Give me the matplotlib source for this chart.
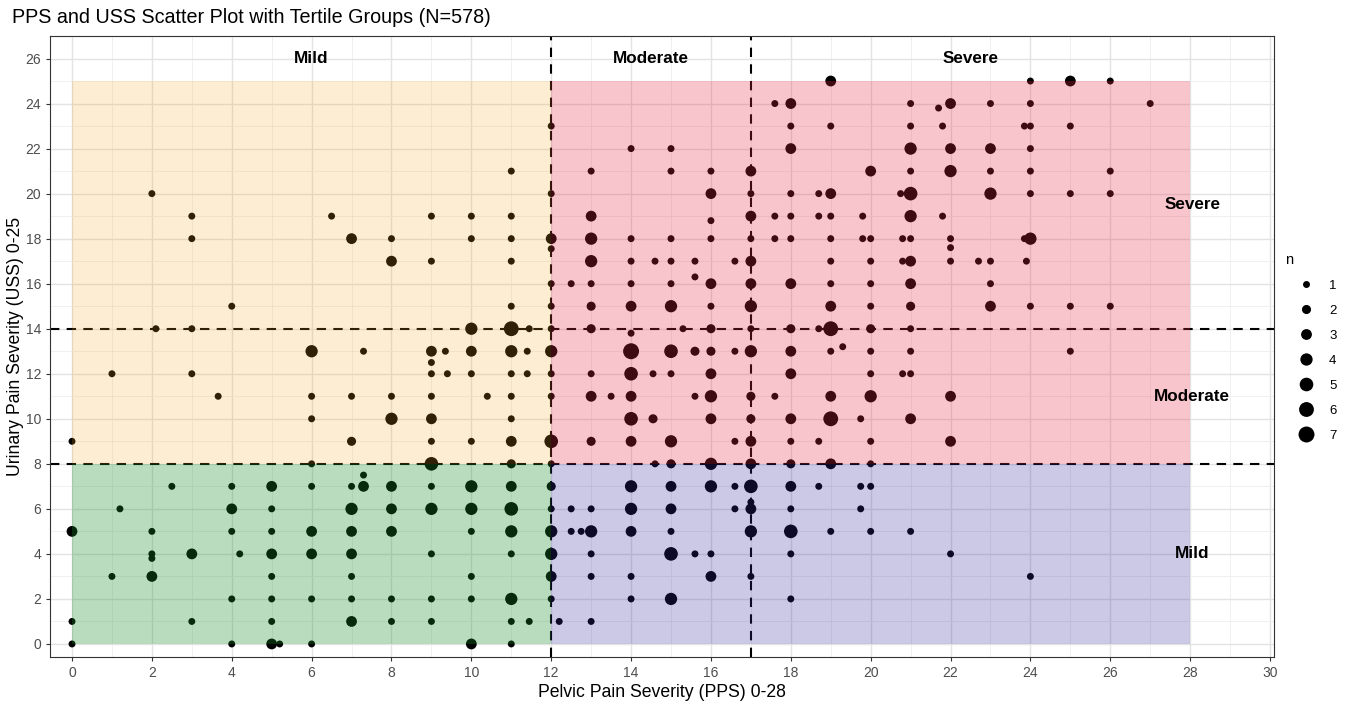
"""PPS vs USS scatter with tertile group shading."""

import matplotlib
import numpy as np

matplotlib.use("Agg")
from matplotlib import pyplot as plt  # noqa: E402
from matplotlib.lines import Line2D  # noqa: E402
from matplotlib.patches import Rectangle  # noqa: E402

plt.rcParams["font.family"] = ["Liberation Sans", "DejaVu Sans"]

# pelvic pain score, one line per urinary score row (top to bottom)
pps = [
    19, 24, 25, 26,
    17.6, 18, 21, 21.7, 22, 23, 24, 27,
    12, 18, 19, 21, 21.8, 23.85, 24, 25,
    14, 15, 18, 21, 22, 23, 24,
    11, 13, 15, 16, 17, 20, 21, 22, 23, 24, 26,
    2, 12, 16, 17, 18, 18.7, 19, 20.75, 21, 23, 24, 25, 26,
    3, 6.5, 9, 10, 11, 13, 16, 17, 17.6, 18, 18.7, 19, 19.8, 21, 21.8,
    3, 7, 8, 10, 11, 12, 12, 13, 14, 15, 16, 17, 17.6, 18, 19, 19.8, 20, 20.8, 21, 22, 22, 23.85, 24,
    8, 9, 11, 13, 14, 14.6, 15, 15.6, 16.6, 17, 19, 20, 20.8, 21, 22, 22.7, 23, 23.9,
    12, 12.5, 13, 14, 15, 15.6, 16, 17, 18, 19, 20, 21, 23,
    4, 11, 12, 13, 14, 15, 16, 17, 19, 20, 21, 23, 24, 25, 26,
    2.1, 3, 10, 11, 11.45, 12, 13, 14, 15.3, 16, 17, 18, 18.7, 19, 20, 21,
    6, 7.3, 9, 9.35, 10, 11, 11.4, 12, 14, 15, 15.6, 16, 16.6, 17, 18, 19, 19.3, 20, 21, 25, 9,
    1, 3, 9, 9.4, 10, 11, 11.4, 12, 13, 14, 14.55, 15, 16, 18, 20, 20.8, 21,
    3.66, 6, 7, 8, 9, 10.4, 11, 12, 13, 13.5, 14, 15.6, 16, 17, 17.6, 19, 20, 22,
    6, 8, 9, 11, 14, 14.55, 16, 17, 18, 19, 19.75, 21,
    0, 7, 9, 10, 11, 12, 13, 14, 15, 16.6, 17, 18, 18.7, 20, 22,
    6, 9, 11, 12, 14.6, 15, 16, 17, 18, 19, 20,
    2.5, 4, 5, 6, 7, 7.3, 7.3, 8, 9, 10, 11, 12, 14, 15, 16, 16.6, 17, 18, 18.7, 19.75, 20,
    1.2, 4, 5, 7, 8, 9, 10, 11, 12, 12.5, 13, 14, 15, 16.6, 17, 17, 18, 19.75,
    0, 2, 4, 5, 6, 7, 8, 10, 11, 12, 12.5, 12.75, 13, 14, 15, 17, 18, 19, 20, 21,
    2, 2, 3, 4.2, 5, 6, 7, 9, 11, 12, 13, 15, 15.6, 16, 18, 22,
    1, 2, 5, 7, 10, 12, 13, 14, 16, 17, 24,
    4, 5, 6, 7, 8, 9, 10, 11, 12, 14, 15, 18,
    0, 3, 5, 7, 8, 9, 11, 11.45, 12.2, 13,
    0, 4, 5, 5.2, 6, 10, 11,
]

# urinary pain score
uss = [
    25, 25, 25, 25,
    24, 24, 24, 23.8, 24, 24, 24, 24,
    23, 23, 23, 23, 23, 23, 23, 23,
    22, 22, 22, 22, 22, 22, 22,
    21, 21, 21, 21, 21, 21, 21, 21, 21, 21, 21,
    20, 20, 20, 20, 20, 20, 20, 20, 20, 20, 20, 20, 20,
    19, 19, 19, 19, 19, 19, 18.8, 19, 19, 19, 19, 19, 19, 19, 19,
    18, 18, 18, 18, 18, 18, 17.55, 18, 18, 18, 18, 18, 18, 18, 18, 18, 18, 18, 18, 18, 17.6, 18, 18,
    17, 17, 17, 17, 17, 17, 17, 17, 17, 17, 17, 17, 17, 17, 17, 17, 17, 17,
    16, 16, 16, 16, 16, 16.3, 16, 16, 16, 16, 16, 16, 16,
    15, 15, 15, 15, 15, 15, 15, 15, 15, 15, 15, 15, 15, 15, 15,
    14, 14, 14, 14, 14, 14, 14, 13.8, 14, 14, 14, 14, 14, 14, 14, 14,
    13, 13, 13, 13, 13, 13, 13, 13, 13, 13, 13, 13, 13, 13, 13, 13, 13.2, 13, 13, 13, 12.5,
    12, 12, 12, 12, 12, 12, 12, 12, 12, 12, 12, 12, 12, 12, 12, 12, 12,
    11, 11, 11, 11, 11, 11, 11, 11, 11, 11, 11, 11, 11, 11, 11, 11, 11, 11,
    10, 10, 10, 10, 10, 10, 10, 10, 10, 10, 10, 10,
    9, 9, 9, 9, 9, 9, 9, 9, 9, 9, 9, 9, 9, 9, 9,
    8, 8, 8, 8, 8, 8, 8, 8, 8, 8, 8,
    7, 7, 7, 7, 7, 7, 7.5, 7, 7, 7, 7, 7, 7, 7, 7, 7, 7, 7, 7, 7, 7,
    6, 6, 6, 6, 6, 6, 6, 6, 6, 6, 6, 6, 6, 6, 6, 6.3, 6, 6,
    5, 5, 5, 5, 5, 5, 5, 5, 5, 5, 5, 5, 5, 5, 5, 5, 5, 5, 5, 5,
    4, 3.8, 4, 4, 4, 4, 4, 4, 4, 4, 4, 4, 4, 4, 4, 4,
    3, 3, 3, 3, 3, 3, 3, 3, 3, 3, 3,
    2, 2, 2, 2, 2, 2, 2, 2, 2, 2, 2, 2,
    1, 1, 1, 1, 1, 1, 1, 1, 1, 1,
    0, 0, 0, 0, 0, 0, 0,
]

# number of patients at each (pps, uss) point
n_pat = [
    3, 1, 3, 1,
    1, 3, 1, 1, 3, 1, 1, 1,
    1, 1, 1, 1, 1, 1, 1, 1,
    1, 1, 3, 4, 3, 3, 1,
    1, 1, 1, 1, 3, 3, 1, 4, 1, 1, 1,
    1, 1, 3, 1, 1, 1, 3, 1, 5, 4, 1, 1, 1,
    1, 1, 1, 1, 1, 3, 1, 3, 1, 1, 1, 1, 1, 4, 1,
    1, 3, 1, 1, 1, 3, 1, 4, 1, 1, 1, 1, 1, 1, 1, 1, 1, 1, 1, 1, 1, 1, 4,
    3, 1, 1, 4, 1, 1, 1, 1, 1, 3, 1, 1, 1, 3, 1, 1, 1, 1,
    1, 1, 1, 1, 1, 1, 3, 3, 3, 1, 1, 3, 1,
    1, 1, 1, 2, 3, 4, 1, 4, 3, 1, 2, 3, 1, 1, 1,
    1, 1, 4, 6, 1, 1, 2, 1, 1, 2, 1, 2, 1, 6, 2, 1,
    4, 1, 3, 1, 3, 4, 1, 4, 7, 5, 2, 2, 1, 4, 3, 1, 1, 1, 1, 1, 1,
    1, 1, 1, 1, 1, 1, 1, 1, 1, 5, 1, 1, 3, 3, 1, 1, 1,
    1, 1, 1, 1, 1, 1, 1, 1, 3, 1, 3, 1, 4, 2, 1, 3, 4, 3,
    1, 4, 3, 1, 5, 2, 3, 2, 3, 6, 1, 3,
    1, 2, 1, 1, 3, 5, 2, 3, 4, 1, 3, 1, 1, 1, 3,
    1, 5, 2, 1, 1, 2, 4, 3, 2, 3, 1,
    1, 1, 3, 1, 1, 3, 1, 3, 1, 4, 3, 2, 4, 3, 4, 1, 5, 3, 1, 1, 1,
    1, 3, 1, 4, 3, 4, 4, 5, 1, 1, 1, 4, 3, 1, 3, 1, 1, 1,
    3, 1, 1, 1, 3, 3, 3, 1, 4, 4, 1, 1, 4, 3, 1, 4, 5, 1, 1, 1,
    1, 1, 3, 1, 3, 3, 3, 1, 1, 4, 1, 5, 1, 1, 1, 1,
    1, 3, 1, 1, 1, 3, 1, 1, 3, 1, 1,
    1, 1, 1, 1, 1, 1, 1, 4, 1, 1, 4, 1,
    1, 1, 1, 3, 1, 1, 1, 1, 1, 1,
    1, 1, 3, 1, 1, 3, 1,
]

# tertile cut points and score ranges
PPS_RANGE = (0, 28)
USS_RANGE = (0, 25)
PPS_CUTS = [12, 17]
USS_CUTS = [8, 14]
GROUPS = ["Mild", "Moderate", "Severe"]
LEGEND_N = [1, 2, 3, 4, 5, 6, 7]

# shading blocks: (pps span, uss span, colour, alpha)
BLOCKS = [
    ((0, 12), (0, 8), "#1a8c2e", 0.30),
    ((0, 12), (8, 25), "#f5a623", 0.20),
    ((12, 28), (8, 25), "#ea2a45", 0.27),
    ((12, 28), (0, 8), "#3428a0", 0.25),
]


def marker_area(n):
    return 25 + (np.asarray(n, dtype=float) - 1) * 17.8


fig = plt.figure(figsize=(13.49, 7.03), dpi=100)
ax = fig.add_axes([0.0371, 0.0654, 0.9073, 0.8834])

ax.scatter(pps, uss, s=marker_area(n_pat), color="black", linewidths=0, zorder=2)

dash = dict(color="black", lw=1.5, dashes=(4.5, 3.5), zorder=2.5)
for c in PPS_CUTS:
    ax.axvline(c, **dash)
for c in USS_CUTS:
    ax.axhline(c, **dash)

for (x0, x1), (y0, y1), col, a in BLOCKS:
    ax.add_patch(Rectangle((x0, y0), x1 - x0, y1 - y0, facecolor=col,
                           alpha=a, edgecolor="none", zorder=3))

# group labels at the middle of each tertile band
x_edges = [PPS_RANGE[0]] + PPS_CUTS + [PPS_RANGE[1]]
y_edges = [USS_RANGE[0]] + USS_CUTS + [USS_RANGE[1]]
for i, g in enumerate(GROUPS):
    ax.text((x_edges[i] + x_edges[i + 1]) / 2, 26, g, ha="center", va="center",
            fontsize=12.3, fontweight="bold", zorder=4)
    ax.text(PPS_RANGE[1] + 0.05, (y_edges[i] + y_edges[i + 1]) / 2, g,
            ha="center", va="center", fontsize=12.3, fontweight="bold", zorder=4)

ax.set_xlim(-0.55, 30.1)
ax.set_ylim(-0.58, 27.0)
ax.set_xticks(np.arange(0, 31, 2))
ax.set_yticks(np.arange(0, 27, 2))
ax.set_xticks(np.arange(0, 31, 1), minor=True)
ax.set_yticks(np.arange(0, 27, 1), minor=True)
ax.grid(which="major", color="#e3e3e3", lw=1.0, zorder=0)
ax.grid(which="minor", color="#eeeeee", lw=0.6, zorder=0)
ax.set_axisbelow(True)
ax.tick_params(which="major", length=3, color="#333333", labelcolor="#4d4d4d",
               labelsize=10)
ax.tick_params(which="minor", length=0)
for sp in ax.spines.values():
    sp.set_color("#333333")
    sp.set_linewidth(0.8)

ax.set_xlabel("Pelvic Pain Severity (PPS) 0-28", fontsize=12.7, labelpad=3)
ax.set_ylabel("Urinary Pain Severity (USS) 0-25", fontsize=12.7, labelpad=1)
fig.text(0.009, 0.975, "PPS and USS Scatter Plot with Tertile Groups (N=578)",
         fontsize=14.2, ha="left", va="center")

handles = [Line2D([], [], marker="o", ls="none", color="black", mec="none",
                  markersize=float(np.sqrt(marker_area(k)))) for k in LEGEND_N]
leg = fig.legend(handles, [str(k) for k in LEGEND_N], title="n",
                 loc="upper left", bbox_to_anchor=(0.9485, 0.648),
                 frameon=False, fontsize=9.5, title_fontsize=10.5,
                 labelspacing=0.97, handletextpad=0.15, handlelength=3.2,
                 borderaxespad=0)
leg._legend_box.align = "left"

fig.savefig("out.png", dpi=100)
plt.close(fig)
